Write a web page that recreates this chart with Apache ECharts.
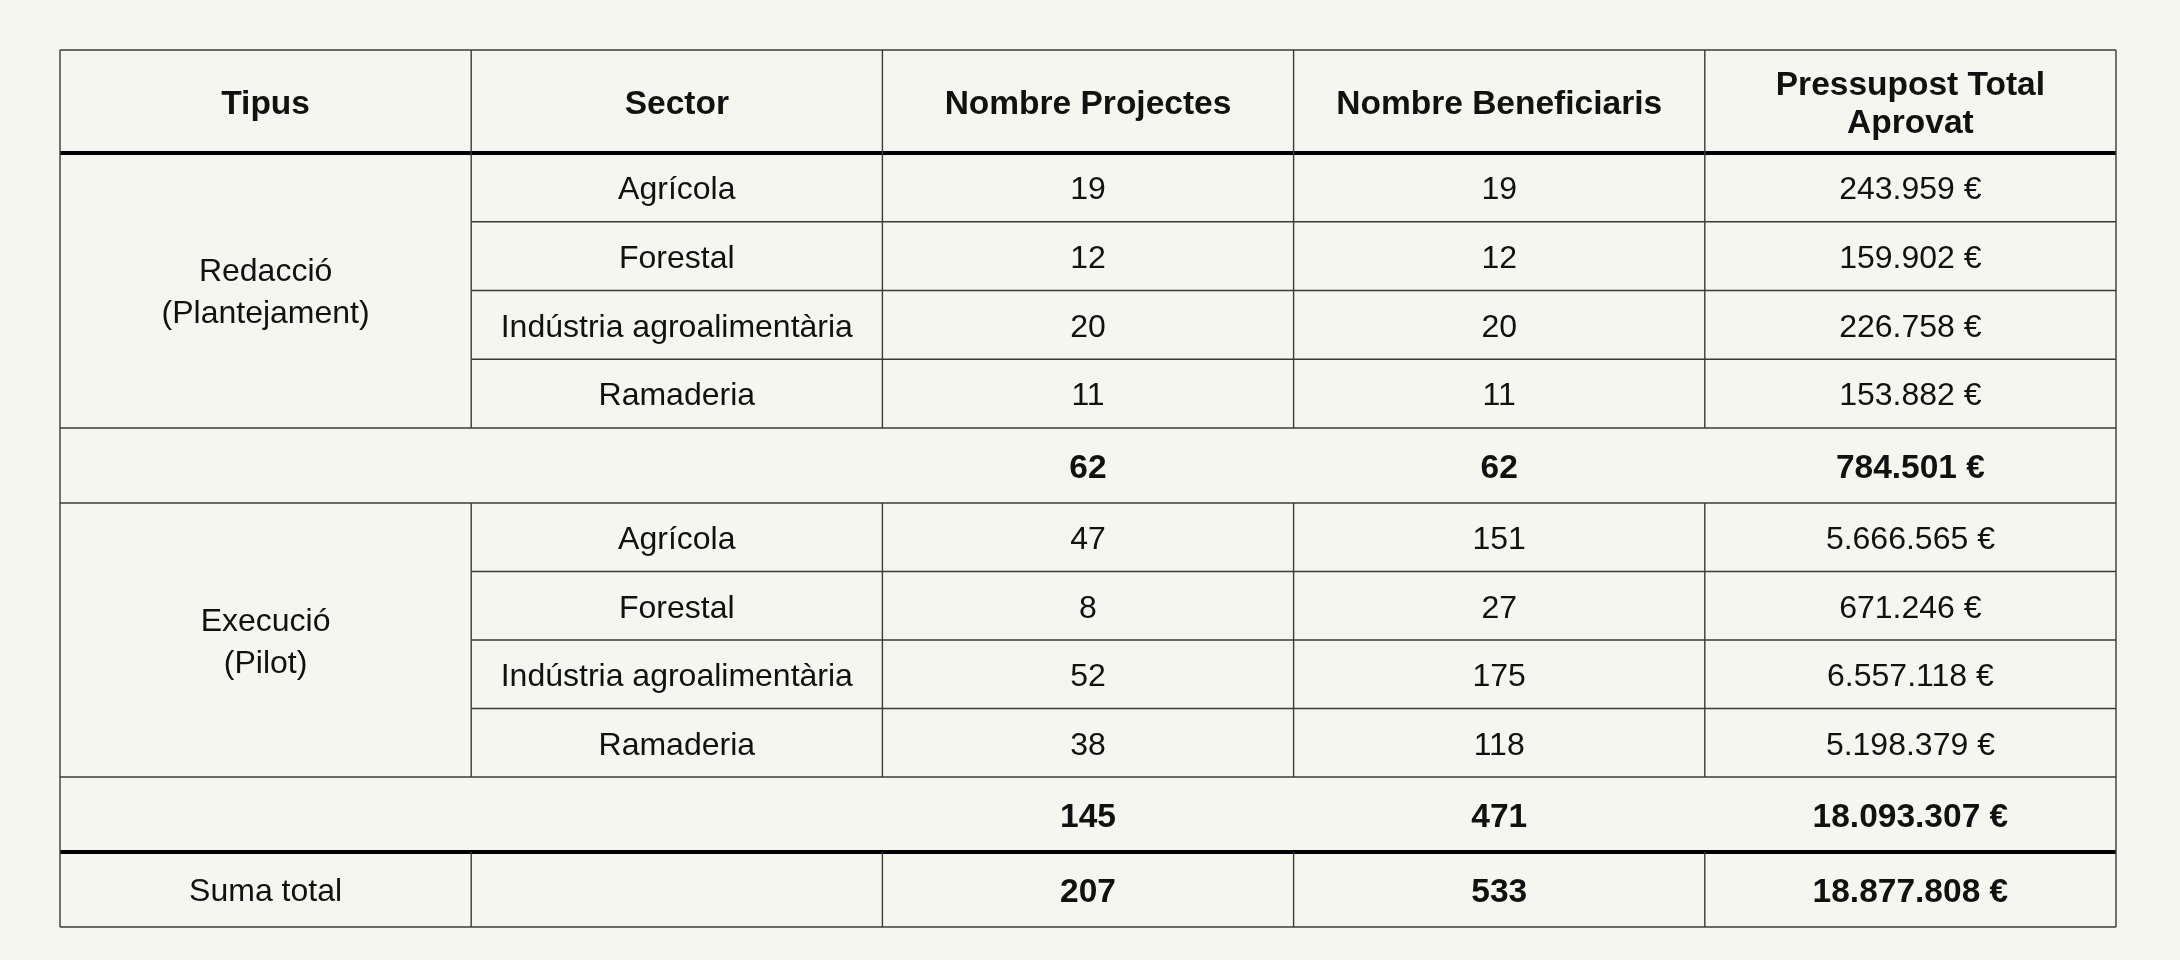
<!DOCTYPE html>
<html>
<head>
<meta charset="utf-8">
<script src="https://cdn.jsdelivr.net/npm/echarts@6/dist/echarts.min.js"></script>
<style>
  html, body { margin: 0; padding: 0; background: #f5f6ef; }
  #chart { width: 2180px; height: 960px; }
</style>
</head>
<body>
<div id="chart"></div>
<script>
// table data
const headers = ['Tipus', 'Sector', 'Nombre Projectes', 'Nombre Beneficiaris', 'Pressupost Total\nAprovat'];
const tipus = ['Redacció\n(Plantejament)', 'Execució\n(Pilot)'];
const sectors = ['Agrícola', 'Forestal', 'Indústria agroalimentària', 'Ramaderia'];
const projectes = [[19, 12, 20, 11], [47, 8, 52, 38]];
const beneficiaris = [[19, 12, 20, 11], [151, 27, 175, 118]];
const pressupost = [[243959, 159902, 226758, 153882], [5666565, 671246, 6557118, 5198379]];
const subProjectes = [62, 145];
const subBeneficiaris = [62, 471];
const subPressupost = [784501, 18093307];
const totalLabel = 'Suma total';
const totalProjectes = 207;
const totalBeneficiaris = 533;
const totalPressupost = 18877808;

// layout (pixel heights of rows)
const headerH = 103, dataH = [68.75, 68.5], subH = 75, totalH = 75;
const FONT = '"Liberation Sans", Arial, Helvetica, sans-serif';
const TEXT_DY = 3;

function euro(n) {
  return String(n).replace(/\B(?=(\d{3})+(?!\d))/g, '.') + ' €';
}

// build rows
const rows = [{ kind: 'header', h: headerH }];
tipus.forEach((t, b) => {
  sectors.forEach((s, i) => rows.push({ kind: 'data', h: dataH[b], block: b, idx: i }));
  rows.push({ kind: 'sub', h: subH, block: b });
});
rows.push({ kind: 'total', h: totalH });

const yEdge = [0];
rows.forEach(r => yEdge.push(yEdge[yEdge.length - 1] + r.h));
const H = yEdge[yEdge.length - 1];

// cells: [c0, c1, r0, r1, text, bold, lineHeight]
const cells = [];
headers.forEach((h, c) => cells.push([c, c + 1, yEdge[0], yEdge[1], h, 1, 38]));
rows.forEach((r, ri) => {
  const y0 = yEdge[ri], y1 = yEdge[ri + 1];
  if (r.kind === 'data') {
    const b = r.block, i = r.idx;
    if (i === 0) {
      const last = ri + sectors.length;
      cells.push([0, 1, y0, yEdge[last], tipus[b], 0, 42]);
    }
    cells.push([1, 2, y0, y1, sectors[i], 0, 36]);
    cells.push([2, 3, y0, y1, String(projectes[b][i]), 0, 36]);
    cells.push([3, 4, y0, y1, String(beneficiaris[b][i]), 0, 36]);
    cells.push([4, 5, y0, y1, euro(pressupost[b][i]), 0, 36]);
  } else if (r.kind === 'sub') {
    const b = r.block;
    cells.push([2, 3, y0, y1, String(subProjectes[b]), 1, 36]);
    cells.push([3, 4, y0, y1, String(subBeneficiaris[b]), 1, 36]);
    cells.push([4, 5, y0, y1, euro(subPressupost[b]), 1, 36]);
  } else if (r.kind === 'total') {
    cells.push([0, 1, y0, y1, totalLabel, 0, 36]);
    cells.push([2, 3, y0, y1, String(totalProjectes), 1, 36]);
    cells.push([3, 4, y0, y1, String(totalBeneficiaris), 1, 36]);
    cells.push([4, 5, y0, y1, euro(totalPressupost), 1, 36]);
  }
});

// lines: [x0, y0, x1, y1, thick]
const lines = [];
for (let i = 0; i <= rows.length; i++) {
  const above = rows[i - 1], below = rows[i];
  let thick = 0, from = 0;
  if (above && above.kind === 'header') thick = 1;
  if (above && above.kind === 'sub' && below && below.kind === 'total') thick = 1;
  if (above && below && above.kind === 'data' && below.kind === 'data' && above.block === below.block) from = 1;
  lines.push([from, yEdge[i], 5, yEdge[i], thick]);
}
lines.push([0, 0, 0, H, 0]);
lines.push([5, 0, 5, H, 0]);
rows.forEach((r, ri) => {
  if (r.kind === 'sub') return;
  for (let c = 1; c <= 4; c++) lines.push([c, yEdge[ri], c, yEdge[ri + 1], 0]);
});

const chart = echarts.init(document.getElementById('chart'), null, { renderer: 'canvas' });
chart.setOption({
  backgroundColor: '#f5f6ef',
  animation: false,
  grid: { left: 60, right: 64, top: 50, bottom: 33 },
  xAxis: { type: 'value', min: 0, max: 5, show: false },
  yAxis: { type: 'value', min: 0, max: H, inverse: true, show: false },
  series: [
    {
      type: 'custom',
      clip: false,
      data: lines,
      z: 3,
      renderItem: function (params, api) {
        const p0 = api.coord([api.value(0), api.value(1)]);
        const p1 = api.coord([api.value(2), api.value(3)]);
        const thick = api.value(4) === 1;
        return {
          type: 'line',
          shape: { x1: p0[0], y1: p0[1], x2: p1[0], y2: p1[1] },
          style: { stroke: thick ? '#000' : '#3a3a3a', lineWidth: thick ? 4 : 1.4 }
        };
      }
    },
    {
      type: 'custom',
      clip: false,
      data: cells,
      z: 4,
      renderItem: function (params, api) {
        const d = cells[params.dataIndex];
        const p0 = api.coord([d[0], d[2]]);
        const p1 = api.coord([d[1], d[3]]);
        const bold = d[5] === 1;
        return {
          type: 'text',
          x: (p0[0] + p1[0]) / 2,
          y: (p0[1] + p1[1]) / 2 + TEXT_DY,
          style: {
            text: d[4],
            align: 'center',
            verticalAlign: 'middle',
            fill: '#111',
            fontFamily: FONT,
            fontSize: bold ? 33.5 : 32,
            fontWeight: bold ? 'bold' : 'normal',
            lineHeight: d[6]
          }
        };
      }
    }
  ]
});
</script>
</body>
</html>
